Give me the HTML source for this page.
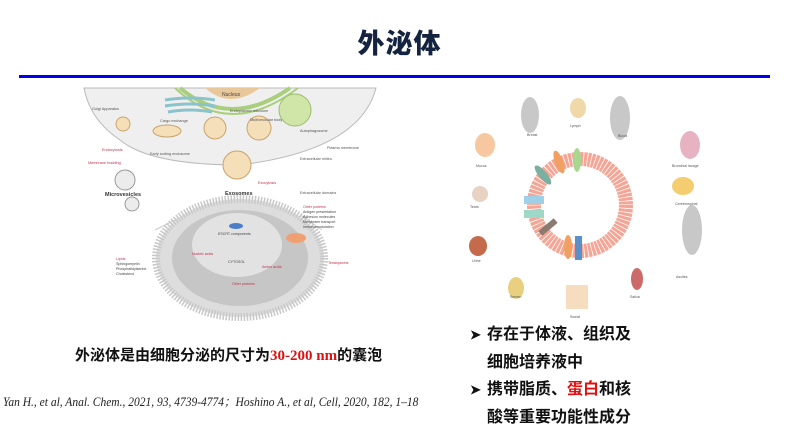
<!DOCTYPE html>
<html><head><meta charset="utf-8"><style>
body{margin:0;width:799px;height:444px;background:#fff;position:relative;overflow:hidden;font-family:"Liberation Serif","Noto Serif CJK SC","Noto Sans CJK SC",serif}
.t{position:absolute;white-space:nowrap}
.ar{font-size:13px;display:inline-block;width:17px}
</style></head><body>
<div class="t" style="left:0;width:799px;top:22px;text-align:center;font-family:'Noto Sans CJK SC',sans-serif;font-weight:900;font-size:27px;color:#14233f;letter-spacing:1px">外泌体</div>
<div style="position:absolute;left:19px;top:75px;width:751px;height:3px;background:#0000ee"></div>

<svg style="position:absolute;left:0;top:0" width="799" height="444" font-family="Liberation Sans,sans-serif">
<path d="M84 88 L376 88 Q360 150 240 165 Q150 165 120 140 Q90 120 84 88Z" fill="#efefef" stroke="#bbb"/>
<path d="M205 88 Q230 110 260 88Z" fill="#e8c89a"/>
<path d="M180 88 Q230 130 290 88" fill="none" stroke="#a9cf7c" stroke-width="4"/>
<path d="M175 88 Q230 140 298 88" fill="none" stroke="#a9cf7c" stroke-width="2"/>
<text x="222" y="96" font-size="5" fill="#444">Nucleus</text>
<g fill="none" stroke="#8bc3cc" stroke-width="3"><path d="M165 100 Q190 96 215 100"/><path d="M165 106 Q190 102 215 106"/><path d="M168 112 Q190 108 212 112"/></g>
<circle cx="295" cy="110" r="16" fill="#cfe6a8" stroke="#9cbc6e"/>
<ellipse cx="167" cy="131" rx="14" ry="6" fill="#f5dfb8" stroke="#c9a36e"/>
<circle cx="215" cy="128" r="11" fill="#f5dfb8" stroke="#c9a36e"/>
<circle cx="259" cy="128" r="12" fill="#f5dfb8" stroke="#c9a36e"/>
<circle cx="123" cy="124" r="7" fill="#f5dfb8" stroke="#c9a36e"/>
<circle cx="237" cy="165" r="14" fill="#f5dfb8" stroke="#c9a36e"/>
<circle cx="125" cy="180" r="10" fill="#ececec" stroke="#999"/>
<circle cx="132" cy="204" r="7" fill="#ececec" stroke="#999"/>
<text x="105" y="196" font-size="5.5" font-weight="bold" fill="#333">Microvesicles</text>
<text x="225" y="195" font-size="5.5" font-weight="bold" fill="#333">Exosomes</text>
<g font-size="3.8" fill="#555"><text x="92" y="110">Golgi Apparatus</text><text x="160" y="122">Cargo exchange</text><text x="230" y="112">Endoplasmic reticulum</text><text x="250" y="121">Multivesicular body</text><text x="300" y="132">Autophagosome</text><text x="327" y="149">Plasma membrane</text><text x="300" y="160">Extracellular milieu</text><text x="300" y="194">Extracellular domains</text><text x="150" y="155">Early sorting endosome</text></g>
<g font-size="3.8" fill="#c0334d"><text x="102" y="151">Endocytosis</text><text x="88" y="164">Membrane budding</text><text x="258" y="184">Exocytosis</text></g>
<path d="M185 215 L155 230 M300 215 L322 230" stroke="#ccc"/>
<ellipse cx="240" cy="258" rx="84" ry="59" fill="#ddd" stroke="#c8c8c8" stroke-width="8" stroke-dasharray="1.5 1.5"/>
<ellipse cx="240" cy="258" rx="68" ry="48" fill="#c6c6c6"/>
<ellipse cx="237" cy="245" rx="45" ry="32" fill="#e2e2e2"/>
<ellipse cx="236" cy="226" rx="7" ry="3" fill="#4a7fc8"/>
<ellipse cx="296" cy="238" rx="10" ry="5" fill="#f0a070"/>
<g font-size="3.6" fill="#444"><text x="218" y="235">ESCRT components</text><text x="228" y="263">CYTOSOL</text><text x="303" y="213">Antigen presentation</text><text x="303" y="218">Adhesion molecules</text><text x="303" y="223">Membrane transport</text><text x="303" y="228">Immunomodulation</text><text x="116" y="265">Sphingomyelin</text><text x="116" y="270">Phosphatidylserine</text><text x="116" y="275">Cholesterol</text></g>
<g font-size="3.6" fill="#c0334d"><text x="303" y="208">Other proteins</text><text x="192" y="255">Nucleic acids</text><text x="116" y="260">Lipids</text><text x="328" y="264">Tetraspanins</text><text x="232" y="285">Other proteins</text><text x="262" y="268">Amino acids</text></g>

<circle cx="580" cy="205" r="46" fill="none" stroke="#f4a595" stroke-width="14" stroke-dasharray="3 0.8"/>
<g fill="#c8c8c8"><ellipse cx="530" cy="115" rx="9" ry="18"/><ellipse cx="620" cy="118" rx="10" ry="22"/><ellipse cx="692" cy="230" rx="10" ry="25"/></g>
<ellipse cx="578" cy="108" rx="8" ry="10" fill="#f0d9a8"/>
<ellipse cx="485" cy="145" rx="10" ry="12" fill="#f7c7a0"/>
<ellipse cx="690" cy="145" rx="10" ry="14" fill="#e7b2c2"/>
<ellipse cx="683" cy="186" rx="11" ry="9" fill="#f4cd70"/>
<circle cx="480" cy="194" r="8" fill="#e8d2c4"/>
<ellipse cx="478" cy="246" rx="9" ry="10" fill="#c56a4a"/>
<ellipse cx="516" cy="288" rx="8" ry="11" fill="#e8d080"/>
<rect x="566" y="285" width="22" height="24" fill="#f6ddc0"/>
<ellipse cx="637" cy="279" rx="6" ry="11" fill="#cc6a6a"/>
<g fill="#f0a060"><ellipse cx="559" cy="162" rx="4" ry="12" transform="rotate(-20 559 162)"/><ellipse cx="568" cy="247" rx="4" ry="12"/></g>
<ellipse cx="577" cy="160" rx="4" ry="12" fill="#a8d890"/>
<ellipse cx="543" cy="175" rx="4" ry="12" fill="#7ab0a0" transform="rotate(-40 543 175)"/>
<rect x="524" y="196" width="20" height="8" fill="#9ed0e8"/><rect x="524" y="210" width="20" height="8" fill="#9ed8c8"/>
<rect x="575" y="236" width="7" height="24" fill="#5a8fc8"/>
<rect x="538" y="224" width="20" height="6" fill="#8a7a70" transform="rotate(-40 548 227)"/>
<g font-size="3.6" fill="#555"><text x="527" y="136">Breast</text><text x="570" y="127">Lymph</text><text x="618" y="137">Blood</text><text x="476" y="167">Mucus</text><text x="672" y="167">Bronchial lavage</text><text x="470" y="208">Tears</text><text x="675" y="205">Cerebrospinal</text><text x="472" y="262">Urine</text><text x="676" y="278">Ascites</text><text x="510" y="298">Semen</text><text x="630" y="298">Saliva</text><text x="570" y="318">Sweat</text></g>
</svg>

<div class="t" style="left:75px;top:344px;font-size:15px;font-weight:bold;font-family:'Noto Sans CJK SC',sans-serif;color:#111">外泌体是由细胞分泌的尺寸为<span style="color:#e01010;font-family:'Liberation Serif',serif">30-200 nm</span>的囊泡</div>
<div class="t" style="left:3px;top:392px;font-size:12.5px;font-style:italic;color:#222;transform:scaleX(0.92);transform-origin:left">Yan H., et al, Anal. Chem., 2021, 93, 4739-4774；Hoshino A., et al, Cell, 2020, 182, 1–18</div>
<div class="t" style="left:470px;top:319px;font-size:16px;font-weight:bold;line-height:27px;font-family:'Noto Sans CJK SC',sans-serif;color:#111">
<div><span class="ar">➤</span>存在于体液、组织及</div><div style="padding-left:17px">细胞培养液中</div>
<div><span class="ar">➤</span>携带脂质、<span style="color:#e01010">蛋白</span>和核</div><div style="padding-left:17px">酸等重要功能性成分</div></div>
</body></html>
